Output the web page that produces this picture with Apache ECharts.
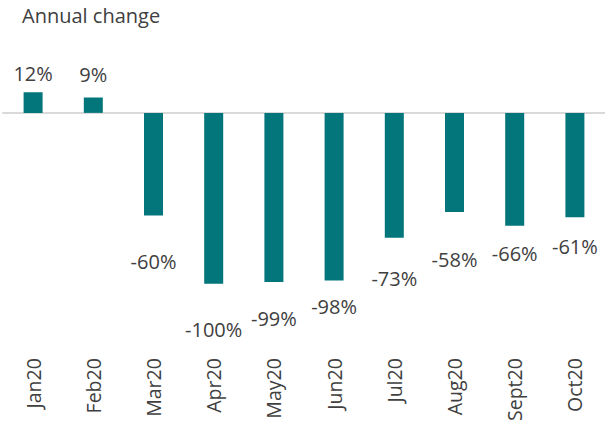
<!DOCTYPE html>
<html>
<head>
<meta charset="utf-8">
<script src="https://cdn.jsdelivr.net/npm/echarts@6.0.0/dist/echarts.min.js"></script>
<style>
  html, body { margin: 0; padding: 0; background: #fff; }
  #chart { width: 605px; height: 424px; }
</style>
</head>
<body>
<div id="chart"></div>
<script>
// Annual change by month, in percent
const months = ['Jan20', 'Feb20', 'Mar20', 'Apr20', 'May20', 'Jun20', 'Jul20', 'Aug20', 'Sept20', 'Oct20']
const change = [12, 9, -60, -100, -99, -98, -73, -58, -66, -61]

// label gap from bar end, staggered like the original so neighbours don't collide
const labelGap = [9, 13, 36, 36, 26, 16, 31, 37, 18, 19]

const teal = '#03767c'
const text = '#404040'
const font = "'Open Sans', sans-serif"

const chart = echarts.init(document.getElementById('chart'), null, { renderer: 'svg' })

chart.setOption({
  animation: false,
  title: {
    text: 'Annual change',
    left: 17, top: 0,
    textStyle: { color: text, fontFamily: font, fontSize: 20, fontWeight: 'normal' },
  },
  grid: { left: 3, right: -3, top: 78.7, bottom: 71.2, containLabel: false },
  xAxis: [
    {
      type: 'category', data: months,
      axisLine: { show: false, onZero: false }, axisTick: { show: false },
      axisLabel: { rotate: 90, margin: 6, color: text, fontFamily: font, fontSize: 19.5, interval: 0 },
    },
    {
      type: 'category', data: months, position: 'bottom',
      axisLine: { show: true, onZero: true, lineStyle: { color: '#d9d9d9', width: 2 } },
      axisTick: { show: false }, axisLabel: { show: false },
    },
  ],
  yAxis: { type: 'value', min: -140, max: 20, show: false, splitLine: { show: false } },
  series: [{
    type: 'bar',
    barWidth: 19,
    itemStyle: { color: teal },
    data: change.map((v, i) => ({
      value: v,
      label: { position: v >= 0 ? 'top' : 'bottom', distance: labelGap[i] },
    })),
    label: {
      show: true, color: text, fontFamily: font, fontSize: 20,
      formatter: p => p.value + '%',
    },
  }],
})
</script>
</body>
</html>
